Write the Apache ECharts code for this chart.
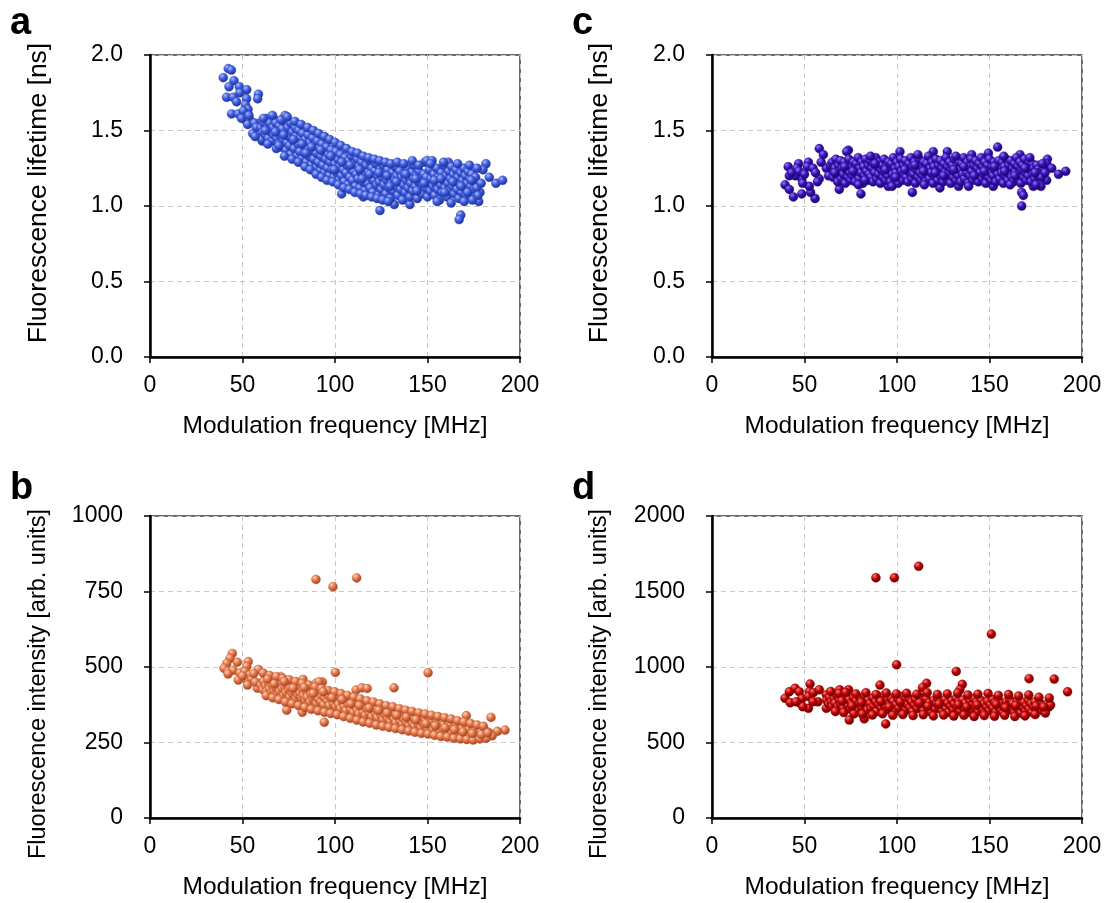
<!DOCTYPE html>
<html>
<head>
<meta charset="utf-8">
<script src="https://cdn.jsdelivr.net/npm/echarts@6/dist/echarts.min.js"></script>
<style>
html, body { margin: 0; padding: 0; background: #fff; }
#main { width: 1109px; height: 903px; }
</style>
</head>
<body>
<div id="main"></div>
<script>
// axis ticks
var freqTicks = [0, 50, 100, 150, 200];
var lifetimeTicks = [0, 0.5, 1.0, 1.5, 2.0];
var intensityTicksB = [0, 250, 500, 750, 1000];
var intensityTicksD = [0, 500, 1000, 1500, 2000];

// panel a: [MHz, ns]
var lifetimeA = [
[42.3,1.91],[44,1.90],[39.6,1.85],[45.4,1.83],[42.7,1.79],[48.3,1.79],[52.3,1.77],[41.4,1.72],[45,1.72],[46.8,1.69],[48.6,1.75],[52.2,1.71],[58.6,1.74],[58.2,1.71],[51.6,1.67],[53,1.64],[44.1,1.61],[47.7,1.61],[51.3,1.60],[54,1.57],[52.2,1.56],[52.8,1.54],[55.5,1.48],[60.7,1.43],[63,1.58],[67.6,1.57],[73,1.60],[59.5,1.55],[62.2,1.53],[65,1.53],[50.5,1.63],[49.5,1.58],[53.5,1.60],[56.5,1.55],[57.5,1.52],[60.4,1.44],[56.8,1.46],[90,1.48],
[60,1.52],[61,1.49],[61.5,1.55],[62.5,1.47],[63,1.51],[64,1.45],[64.5,1.55],[65.5,1.49],[66,1.43],[66.5,1.52],[67,1.47],
[68,1.55],[68.5,1.45],[69,1.50],[69.5,1.41],[70,1.53],[70.5,1.47],[71,1.39],[71.5,1.51],[72,1.44],[72.5,1.56],[73,1.48],[73.5,1.37],[74,1.42],[74.5,1.52],[75,1.46],[75.5,1.40],[76,1.55],[76,1.34],
[77,1.49],[77.5,1.43],[78,1.38],[78.5,1.52],[79,1.46],[79.5,1.33],[80,1.41],[80.5,1.50],[81,1.36],[81.5,1.45],[82,1.31],[82.5,1.48],[83,1.40],[83.5,1.35],[84,1.44],[84.5,1.29],[85,1.38],[85.5,1.47],[86,1.33],[86.5,1.42],
[87,1.27],[87.5,1.37],[88,1.45],[88.5,1.31],[89,1.40],[89.5,1.25],[90,1.35],[90.5,1.43],[91,1.29],[91.5,1.38],[92,1.23],[92.5,1.33],[93,1.41],[93.5,1.27],[94,1.36],[94.5,1.22],[95,1.31],[95.5,1.39],[96,1.25],[96.5,1.34],[97,1.20],[97.5,1.29],[98,1.37],[98.5,1.24],[99,1.32],[99.5,1.19],[100,1.28],[100.5,1.36],[101,1.22],[101.5,1.31],
[103.6,1.08],[105.4,1.14],[115.3,1.06],[124.3,0.97],[132,1.01],[140.5,1.01],
[102,1.17],[102.5,1.26],[103,1.34],[103.5,1.20],[104,1.29],[104.5,1.24],[105,1.16],[105.5,1.32],[106,1.22],[106.5,1.27],[107,1.14],[107.5,1.30],[108,1.19],[108.5,1.25],[109,1.33],[109.5,1.17],[110,1.23],[110.5,1.28],[111,1.13],[111.5,1.21],[112,1.31],[112.5,1.18],[113,1.26],[113.5,1.12],[114,1.22],[114.5,1.29],[115,1.16],[115.5,1.24],[116,1.10],[116.5,1.20],[117,1.27],[117.5,1.15],[118,1.22],[118.5,1.30],[119,1.12],[119.5,1.19],[120,1.25],[120.5,1.09],[121,1.17],[121.5,1.23],[122,1.28],[122.5,1.14],[123,1.20],[123.5,1.07],[124,1.16],[124.5,1.24],[125,1.11],[125.5,1.19],
[126,1.27],[126.5,1.14],[127,1.21],[127.5,1.08],[128,1.17],[128.5,1.24],[129,1.12],[129.5,1.19],[130,1.05],[130.5,1.15],[131,1.22],[131.5,1.10],[132,1.18],[132.5,1.26],[133,1.13],[133.5,1.20],[134,1.07],[134.5,1.16],[135,1.23],[135.5,1.11],[136,1.19],[136.5,1.04],[137,1.14],[137.5,1.21],[138,1.09],[138.5,1.17],[139,1.25],[139.5,1.12],[140,1.19],[140.5,1.06],[141,1.15],[141.5,1.22],[142,1.10],[142.5,1.18],[143,1.27],[143.5,1.13],[144,1.20],[144.5,1.05],[145,1.16],[145.5,1.23],[146,1.11],[146.5,1.18],[147,1.08],[147.5,1.14],[148,1.21],[148.5,1.29],[149,1.12],[149.5,1.19],[149.6,1.30],
[150,1.06],[150.5,1.16],[151,1.24],[151.5,1.10],[152,1.18],[152.5,1.30],[153,1.13],[153.5,1.21],[154,1.07],[154.5,1.15],[155,1.25],[155.5,1.11],[156,1.19],[156.5,1.04],[157,1.14],[157.5,1.22],[158,1.09],[158.5,1.17],[159,1.27],[159.5,1.12],[160,1.20],[160.5,1.06],[161,1.15],[161.3,1.29],[161.5,1.23],[162,1.10],[162.5,1.18],[163,1.26],[163.5,1.13],[164,1.21],[164.5,1.08],[165,1.16],[165.5,1.24],[166,1.11],[166.5,1.19],[167,1.05],[167.5,1.14],[168,1.22],[168.5,1.09],[169,1.17],[169.5,1.25],[170,1.12],[170.5,1.20],[171,1.07],[171.5,1.15],[172,1.23],[172.5,1.10],[173,1.18],[173.5,1.13],[174,1.21],[174.5,1.08],[175,1.16],[175.5,1.11],[176,1.19],
[181.6,1.28],[180,1.24],[183.4,1.19],[187,1.15],[190.6,1.17],[177.7,1.03],[168,0.94],[167.1,0.91],[178.4,1.09],[176.6,1.12],[179,1.15],
[61.3,1.58],[63.7,1.41],[66.2,1.60],[68.3,1.38],[70.8,1.57],[72.7,1.33],[74.2,1.59],[76.8,1.31],[78.3,1.56],[80.2,1.29],[81.7,1.54],[83.8,1.26],[85.2,1.52],[86.7,1.24],[88.3,1.50],[89.8,1.21],[91.2,1.48],[92.8,1.19],[94.3,1.46],[95.7,1.17],[97.2,1.44],[98.8,1.16],[100.2,1.42],[101.8,1.14],[103.2,1.40],[104.8,1.12],[106.3,1.38],[107.8,1.11],[109.3,1.36],[110.7,1.09],[112.2,1.35],[113.8,1.08],[115.3,1.33],[116.7,1.07],[118.2,1.32],[119.8,1.06],[121.3,1.31],[122.8,1.05],[124.2,1.30],[125.8,1.04],[127.3,1.29],[128.8,1.03],[130.2,1.28],[133.7,1.29],[137.2,1.28],[141.8,1.30],[145.3,1.27],[151.7,1.28],[155.2,1.03],[158.7,1.29],[162.8,1.02],[166.3,1.28],[169.8,1.03],[172.7,1.27],[174.3,1.04],[176.8,1.25],[177.3,1.07],
[62.4,1.50],[67.8,1.49],[72.3,1.47],[77.6,1.44],[82.2,1.41],[87.3,1.39],[92.3,1.37],[97.8,1.33],[103.7,1.29],[108.2,1.27],[113.3,1.24],[118.7,1.21],[123.8,1.22],[128.2,1.20],[133.2,1.16],[138.3,1.21],[143.7,1.18],[148.2,1.15],[153.8,1.17],[157.3,1.18],[163.7,1.16],[168.2,1.13],[173.7,1.17],[69.7,1.40],[84.3,1.35],[99.7,1.24],[114.7,1.18],[129.7,1.13],[144.3,1.10],[159.3,1.09],[171.7,1.09]
];

// panel c: [MHz, ns]
var lifetimeC = [
[41.2,1.26],[41.8,1.20],[39.5,1.14],[41.8,1.11],[44,1.06],[48.5,1.08],[55.7,1.05],[53.3,1.09],[52.6,1.13],[48.5,1.18],[45,1.20],[46.8,1.28],[45.9,1.25],[52.1,1.29],[51.5,1.26],[58,1.38],[60.2,1.34],[58,1.18],[54.6,1.25],[61.8,1.25],[73.7,1.37],[72.8,1.36],[68.8,1.11],[80.5,1.08],[108.3,1.09],[123.2,1.12],[101.6,1.36],[119.6,1.36],[127.2,1.36],[140.4,1.34],[149.4,1.35],[154.4,1.39],[166.5,1.34],[167.4,1.00],[167.4,1.09],[168.3,1.07],[181.3,1.31],[180.9,1.28],[183.6,1.25],[191.2,1.23],[187.3,1.21],[180.9,1.17],[177.8,1.13],[173.7,1.13],[152,1.13],[133.3,1.13],[95.3,1.13],[43,1.22],[47,1.23],[50,1.21],[56,1.22],[57,1.16],[49,1.15],[59,1.29],[63,1.20],[64,1.27],[66,1.23],
[65,1.29],[65.5,1.19],[66.5,1.25],[67,1.31],[67.5,1.21],[68,1.16],[68.5,1.27],[69,1.23],[69.5,1.30],[70,1.18],[70.5,1.25],[71,1.21],[71.5,1.29],[72,1.15],[72.5,1.24],[73,1.27],[73.5,1.19],[74,1.31],[74.5,1.22],[75,1.17],[75.5,1.26],[76,1.20],[76.5,1.29],[77,1.24],[77.5,1.16],[78,1.28],[78.5,1.21],[79,1.32],[79.5,1.18],[80,1.25],[80.5,1.22],[81,1.29],[81.5,1.15],[82,1.26],[82.5,1.20],[83,1.31],[83.5,1.23],[84,1.17],[84.5,1.27],[85,1.21],[85.5,1.30],[86,1.19],[86.5,1.25],[87,1.16],[87.5,1.28],[88,1.22],[88.5,1.32],[89,1.18],[89.5,1.26],[90,1.21],[90.5,1.29],[91,1.15],[91.5,1.24],[92,1.27],[92.5,1.19],[93,1.31],[93.5,1.22],[94,1.17],[94.5,1.26],[95,1.20],[95.5,1.29],[96,1.24],[96.5,1.16],[97,1.28],[97.5,1.21],[98,1.32],[98.5,1.18],[99,1.25],[99.5,1.22],[100,1.29],
[100.5,1.15],[101,1.26],[101.5,1.20],[102,1.31],[102.5,1.23],[103,1.17],[103.5,1.27],[104,1.21],[104.5,1.30],[105,1.19],[105.5,1.25],[106,1.16],[106.5,1.28],[107,1.22],[107.5,1.32],[108,1.18],[108.5,1.26],[109,1.21],[109.5,1.29],[110,1.15],[110.5,1.24],[111,1.27],[111.5,1.19],[112,1.31],[112.5,1.22],[113,1.17],[113.5,1.26],[114,1.20],[114.5,1.29],[115,1.24],[115.5,1.16],[116,1.28],[116.5,1.21],[117,1.33],[117.5,1.18],[118,1.25],[118.5,1.22],[119,1.29],[119.5,1.15],[120,1.26],[120.5,1.20],[121,1.31],[121.5,1.23],[122,1.17],[122.5,1.27],[123,1.21],[123.5,1.30],[124,1.19],[124.5,1.25],[125,1.16],[125.5,1.28],[126,1.22],[126.5,1.32],[127,1.18],[127.5,1.26],[128,1.21],[128.5,1.29],[129,1.15],[129.5,1.24],[130,1.27],[130.5,1.19],[131,1.31],[131.5,1.22],[132,1.17],[132.5,1.26],[133,1.20],[133.5,1.29],[134,1.24],[134.5,1.16],[135,1.28],[135.5,1.21],[136,1.32],[136.5,1.18],[137,1.25],[137.5,1.22],[138,1.29],[138.5,1.15],[139,1.26],[139.5,1.20],[140,1.31],
[140.5,1.23],[141,1.17],[141.5,1.27],[142,1.21],[142.5,1.30],[143,1.19],[143.5,1.25],[144,1.16],[144.5,1.28],[145,1.22],[145.5,1.32],[146,1.18],[146.5,1.26],[147,1.21],[147.5,1.29],[148,1.15],[148.5,1.24],[149,1.27],[149.5,1.19],[150,1.31],[150.5,1.22],[151,1.17],[151.5,1.26],[152,1.20],[152.5,1.29],[153,1.24],[153.5,1.16],[154,1.28],[154.5,1.21],[155,1.30],[155.5,1.18],[156,1.25],[156.5,1.22],[157,1.29],[157.5,1.15],[158,1.26],[158.5,1.20],[159,1.31],[159.5,1.23],[160,1.17],[160.5,1.27],[161,1.21],[161.5,1.30],[162,1.19],[162.5,1.25],[163,1.16],[163.5,1.28],[164,1.22],[164.5,1.32],[165,1.18],[165.5,1.26],[166,1.21],[166.5,1.29],[167,1.15],[167.5,1.24],[168,1.27],[168.5,1.19],[169,1.31],[169.5,1.22],[170,1.17],[170.5,1.26],[171,1.20],[171.5,1.29],[172,1.24],[172.5,1.16],[173,1.28],[173.5,1.21],[174,1.25],[174.5,1.18],[175,1.23],[175.5,1.27],[176,1.20],[176.5,1.24],[177,1.22],[178,1.19],[179,1.25],[180,1.22],
[66.3,1.22],[71.7,1.26],[76.2,1.23],[82.7,1.17],[88.2,1.28],[93.7,1.24],[99.3,1.19],[104.2,1.24],[109.7,1.27],[114.3,1.23],[120.7,1.22],[125.2,1.20],[130.7,1.24],[136.2,1.26],[141.7,1.20],[147.2,1.23],[152.7,1.26],[158.2,1.23],[163.7,1.20],[169.2,1.25],[174.7,1.22],[178.6,1.28],[79.2,1.14],[97.3,1.13],[114.8,1.14],[138.7,1.13],[161.2,1.14],[175.2,1.14],[85.7,1.33],[111.3,1.34],[131.8,1.33],[157.7,1.33],[171.8,1.32]
];

// panel b: [MHz, arb. units]
var intensityB = [
[89.7,790],[98.9,766],[111.7,795],[100.2,482],[150.3,481],[94.2,317],[73.9,357],[82.3,350],[131.9,431],[184.3,333],[191.9,291],[187.8,287],[171,339],
[44.5,545],[43.3,529],[41.5,512],[40,496],[42.2,485],[45,489],[47.2,516],[42.2,477],[48.6,480],[47.7,457],[53.1,518],[52.3,502],[51.3,485],[54.1,474],[52.3,457],[55,461],[52.7,440],[58.6,492],[59.5,446],[58,430],[62.7,468],[65.7,457],[70.6,468],[82.7,459],[89.7,446],[93.2,450],[50,470],[56,478],[57,450],[91.4,451],[111.4,424],[114.4,431],[117.4,429],
[60,440],[61,425],[61.5,452],[62.5,438],[63,418],[64,446],[64.5,428],[65.5,412],[66,440],[67,422],[67.5,450],[68,432],[69,408],[69.5,437],[70,420],[71,446],[71.5,428],[72,404],[73,433],[73.5,415],[74,442],[75,424],[75.5,400],[76,430],[77,412],[77.5,438],[78,420],[79,396],[79.5,426],[80,408],[80.5,436],
[81,415],[82,398],[82.5,425],[83,406],[84,390],[84.5,418],[85,400],[86,430],[86.5,384],[87,410],[88,394],[88.5,420],[89,402],[90,380],[90.5,412],[91,395],[92,424],[92.5,386],[93,405],[94,375],[94.5,398],[95,415],[96,388],[96.5,405],[97,372],[98,395],[98.5,412],[99,380],[100,400],[100.5,368],
[101,390],[102,376],[102.5,404],[103,362],[104,385],[104.5,398],[105,370],[106,356],[106.5,390],[107,377],[108,395],[108.5,360],[109,382],[110,350],[110.5,372],[111,390],[112,358],[112.5,378],[113,345],[114,368],[114.5,385],[115,352],[116,372],[116.5,340],[117,362],[118,380],[118.5,348],[119,366],[120,336],[120.5,358],
[121,372],[122,345],[122.5,360],[123,332],[124,352],[124.5,368],[125,340],[126,326],[126.5,355],[127,342],[128,362],[128.5,330],[129,348],[130,320],[130.5,338],[131,356],[132,328],[132.5,344],[133,316],[134,336],[134.5,352],[135,322],[136,340],[136.5,312],[137,330],[138,348],[138.5,318],[139,334],[140,308],[140.5,326],[141,343],[142,314],[142.5,330],[143,304],[144,322],[144.5,338],[145,310],[146,326],[146.5,300],[147,318],[148,334],[148.5,306],[149,322],[150,296],[150.5,314],
[151,330],[152,302],[152.5,318],[153,292],[154,310],[154.5,325],[155,298],[156,314],[156.5,288],[157,305],[158,320],[158.5,294],[159,310],[160,284],[160.5,300],[161,316],[162,290],[162.5,305],[163,280],[164,297],[164.5,312],[165,286],[166,300],[166.5,276],[167,292],[168,306],[168.5,282],[169,296],[170,272],[170.5,288],[171,302],[172,278],[172.5,292],[173,270],[174,285],[174.5,298],[175,274],[176,288],[176.5,268],[177,281],[178,294],[178.5,272],[179,284],[180,268],[180.5,280],[181,290],[182,275],[183,283],[184,278],[185,272],
[61.2,480],[64.7,472],[68.3,468],[71.8,462],[75.2,458],[78.7,452],[82.3,446],[85.8,440],[89.2,434],[92.7,428],[96.3,422],[99.8,418],[103.3,412],[106.8,406],[110.2,400],[113.7,394],[117.3,388],[120.8,384],[124.2,378],[127.7,372],[131.3,368],[134.8,362],[138.2,357],[141.7,353],[145.3,348],[148.8,344],[152.2,340],[155.7,336],[159.3,332],[162.8,328],[166.2,322],[169.7,318],[173.3,313],[176.8,308],[180.2,304],
[62.8,405],[66.3,398],[69.7,392],[73.2,384],[76.8,378],[80.3,372],[83.7,366],[87.2,360],[90.8,355],[94.3,350],[97.7,346],[101.2,342],[104.7,336],[108.3,330],[111.8,324],[115.2,318],[118.7,314],[122.3,308],[125.8,304],[129.2,300],[132.7,296],[136.3,292],[139.8,288],[143.2,284],[146.7,280],[150.3,278],[153.8,274],[157.2,270],[160.7,268],[164.3,264],[167.8,262],[171.2,260],[174.7,258],[178.3,262],[181.7,264],
[63.6,460],[67.2,444],[72.6,452],[77.4,430],[83.4,432],[88.2,412],[93.6,418],[98.4,398],[103.8,392],[108.6,378],[113.2,372],[118.4,364],[123.6,356],[128.2,348],[133.4,340],[138.6,334],[143.8,325],[149.2,312],[154.2,305],[159.6,298],[164.6,292],[169.2,285],[174.2,280],[179.2,276],[182.6,282]
];

// panel d: [MHz, arb. units]
var intensityD = [
[88.6,1591],[98.6,1591],[111.7,1667],[151,1218],[99.8,1015],[132,971],[171.4,923],[185,920],[192.2,836],[93.9,623],[74.2,649],[82.3,657],
[39.5,793],[41.8,836],[44.9,859],[47.2,836],[42.3,763],[47.7,760],[48.6,790],[53,887],[52.6,836],[52.1,805],[52.1,726],[54.8,830],[58,849],[61.8,816],[61.8,726],[57.3,770],[54.6,770],[49.1,737],[45.5,770],[65.1,816],[69,849],[67.3,783],
[135.3,885],[134,849],[90.8,880],[116,892],[113.8,864],[73.8,849],
[62,780],[63,755],[63.5,800],[64.5,770],[65,740],[66,790],[66.5,760],[67.5,812],[68,735],[69,778],[69.5,752],[70.5,796],[71,728],[72,766],[72.5,805],[73.5,745],[74,783],[75,720],[75.5,760],[76.5,798],[77,738],[78,775],[78.5,710],[79.5,755],[80,792],[81,732],[81.5,768],[82.5,808],[83,745],[84,715],[84.5,782],[85.5,758],[86,725],[87,795],[87.5,740],[88.5,770],[89,705],[90,752],[90.5,788],[91.5,730],[92,765],[93,812],[93.5,742],[94.5,778],[95,718],[96,755],[96.5,795],[97.5,735],[98,770],[99,708],[99.5,750],[100.5,790],
[101,728],[102,762],[102.5,805],[103.5,742],[104,776],[105,715],[105.5,752],[106.5,792],[107,732],[108,768],[108.5,705],[109.5,748],[110,785],[111,725],[111.5,760],[112.5,800],[113,738],[114,772],[114.5,712],[115.5,750],[116,788],[117,728],[117.5,762],[118.5,702],[119,745],[120,780],[120.5,722],[121.5,758],[122,795],[123,735],[123.5,770],[124.5,710],[125,748],[126,785],[126.5,725],[127.5,760],[128,700],[129,742],[129.5,778],[130.5,718],[131,755],[132,792],[132.5,732],[133.5,768],[134,708],[135,745],[135.5,782],[136.5,722],[137,758],[138,698],[138.5,738],[139.5,775],[140,715],
[141,752],[141.5,790],[142.5,730],[143,765],[144,705],[144.5,742],[145.5,778],[146,720],[147,756],[147.5,695],[148.5,735],[149,772],[150,712],[150.5,750],[151.5,786],[152,728],[153,762],[153.5,702],[154.5,740],[155,776],[156,718],[156.5,754],[157.5,696],[158,734],[159,770],[159.5,712],[160.5,748],[161,784],[162,725],[162.5,760],[163.5,700],[164,738],[165,772],[165.5,715],[166.5,750],[167,695],[168,732],[168.5,766],[169.5,710],[170,745],[171,778],[171.5,722],[172.5,756],[173,700],[174,735],[174.5,768],[175.5,715],[176,748],[177,728],[177.5,760],[178.5,712],[179,742],[180,725],[181,752],[182,735],[183,748],
[64.2,838],[68.7,825],[72.3,832],[77.8,822],[83.2,830],[88.7,818],[94.2,828],[99.7,822],[105.2,826],[110.7,820],[116.3,830],[121.8,818],[127.2,822],[132.8,828],[138.3,815],[143.7,820],[149.2,825],[154.8,812],[160.3,818],[165.7,808],[171.2,815],[176.7,800],[182.3,795],
[66.7,705],[71.2,698],[76.8,690],[81.3,688],[86.7,682],[92.2,690],[97.7,680],[103.2,685],[108.7,678],[114.2,684],[119.7,676],[125.2,682],[130.7,675],[136.2,680],[141.7,672],[147.2,678],[152.7,674],[158.2,680],[163.7,672],[169.2,676],[174.7,685],[180.2,695],
[70.2,775],[80.7,765],[91.3,772],[101.8,768],[112.3,762],[122.7,755],[133.2,750],[143.3,748],[153.7,752],[164.2,745],[175.2,742],[75.7,742],[95.8,735],[116.7,740],[137.7,735],[158.7,730],[179.3,735]
];

var chartDom = document.getElementById('main');
var myChart = echarts.init(chartDom);
var font = 'Liberation Sans, Arial, sans-serif';

function ball(light, base, dark) {
    return {
        type: 'radial', x: 0.35, y: 0.3, r: 0.75,
        colorStops: [
            {offset: 0, color: light},
            {offset: 0.45, color: base},
            {offset: 1, color: dark}
        ]
    };
}

function xAxisFor(gi) {
    return {
        type: 'value', gridIndex: gi,
        min: freqTicks[0], max: freqTicks[freqTicks.length - 1], interval: freqTicks[1] - freqTicks[0],
        name: 'Modulation frequency [MHz]', nameLocation: 'middle', nameGap: 57,
        nameTextStyle: {fontSize: 24.5, color: '#000', fontFamily: font},
        axisLine: {show: true, onZero: false, lineStyle: {color: '#000', width: 2.5}},
        axisTick: {show: true, length: 6, lineStyle: {color: '#000', width: 1.5}},
        axisLabel: {fontSize: 23, color: '#000', margin: 17, fontFamily: font},
        splitLine: {show: true, lineStyle: {type: [5, 4], color: '#c8c8c8', width: 1}}
    };
}

function yAxisFor(gi, ticks, digits) {
    return {
        type: 'value', gridIndex: gi,
        min: ticks[0], max: ticks[ticks.length - 1], interval: ticks[1] - ticks[0],
        axisLine: {show: true, onZero: false, lineStyle: {color: '#000', width: 2.5}},
        axisTick: {show: true, length: 6, lineStyle: {color: '#000', width: 1.5}},
        axisLabel: {fontSize: 23, color: '#000', margin: 27, fontFamily: font,
            formatter: function (v) { return v.toFixed(digits); }},
        splitLine: {show: true, lineStyle: {type: [5, 4], color: '#c8c8c8', width: 1}}
    };
}

function scatter(gi, data, fill, edge) {
    return {
        type: 'scatter', xAxisIndex: gi, yAxisIndex: gi,
        data: data, symbolSize: 9,
        itemStyle: {color: fill, borderColor: edge, borderWidth: 0.4, opacity: 1},
        emphasis: {disabled: true},
        silent: true
    };
}

function yTitle(x, y, text, size) {
    return {
        type: 'text', x: x, y: y, rotation: Math.PI / 2,
        style: {text: text, font: size + 'px ' + font, fill: '#000', align: 'center', verticalAlign: 'middle'}
    };
}

function letter(x, y, text) {
    return {type: 'text', left: x, top: y, style: {text: text, font: 'bold 38px ' + font, fill: '#000'}};
}

var gridBase = {show: true, borderColor: '#3a3a3a', borderWidth: 1.5, backgroundColor: 'transparent'};

var option = {
    animation: false,
    backgroundColor: '#fff',
    grid: [
        Object.assign({left: 150, top: 55, width: 370, height: 302}, gridBase),
        Object.assign({left: 712, top: 55, width: 370, height: 302}, gridBase),
        Object.assign({left: 150, top: 516, width: 370, height: 302}, gridBase),
        Object.assign({left: 712, top: 516, width: 370, height: 302}, gridBase)
    ],
    xAxis: [xAxisFor(0), xAxisFor(1), xAxisFor(2), xAxisFor(3)],
    yAxis: [
        yAxisFor(0, lifetimeTicks, 1),
        yAxisFor(1, lifetimeTicks, 1),
        yAxisFor(2, intensityTicksB, 0),
        yAxisFor(3, intensityTicksD, 0)
    ],
    series: [
        scatter(0, lifetimeA, ball('#a8b8ff', '#3d5ce0', '#1b2a8a'), '#2a3fa8'),
        scatter(1, lifetimeC, ball('#8f78ff', '#3812b5', '#16005a'), '#240a80'),
        scatter(2, intensityB, ball('#ffd0b4', '#e4764a', '#983a1a'), '#b85a34'),
        scatter(3, intensityD, ball('#ff7a7a', '#c00000', '#560000'), '#800000')
    ],
    graphic: {
        elements: [
            yTitle(39, 193, 'Fluorescence lifetime [ns]', 26.5),
            yTitle(600, 193, 'Fluorescence lifetime [ns]', 26.5),
            yTitle(39, 684, 'Fluorescence intensity [arb. units]', 23.5),
            yTitle(600, 684, 'Fluorescence intensity [arb. units]', 23.5),
            letter(10, 5, 'a'),
            letter(572, 5, 'c'),
            letter(10, 470, 'b'),
            letter(572, 470, 'd')
        ]
    }
};

option && myChart.setOption(option);
</script>
</body>
</html>
